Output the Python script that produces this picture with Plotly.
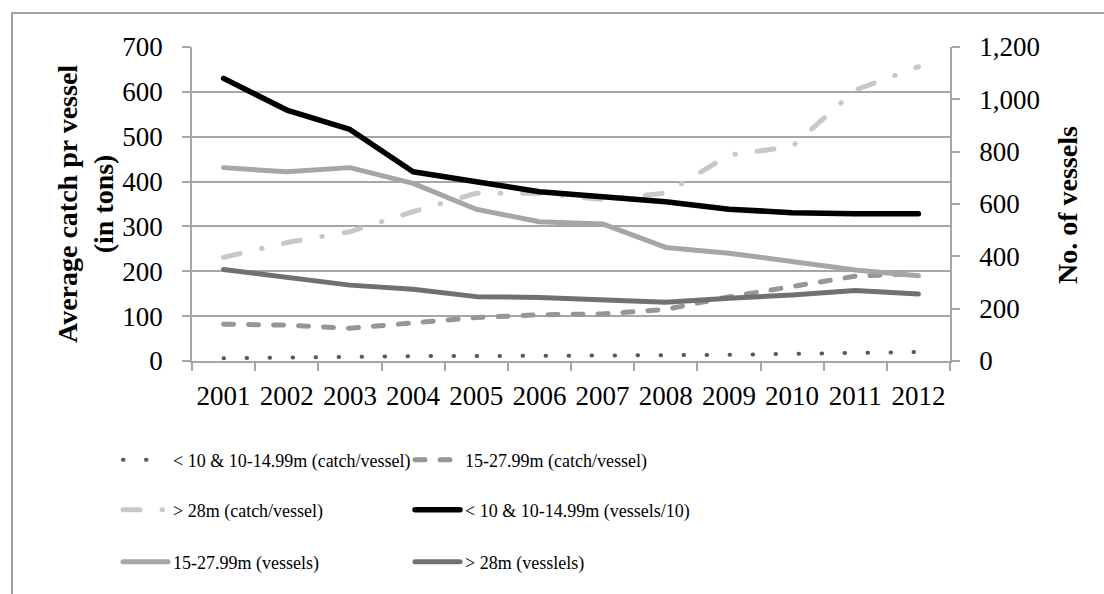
import plotly.graph_objects as go

years = [str(y) for y in range(2001, 2013)]

# Average catch per vessel (tons), left axis
catch_small = [6, 8, 9, 11, 11, 11, 13, 13, 14, 16, 19, 20]
catch_mid = [82, 80, 73, 85, 97, 103, 105, 115, 143, 166, 189, 195]
catch_large = [231, 264, 288, 333, 374, 374, 360, 374, 459, 478, 604, 656]

# Number of vessels, right axis
vessels_small_div10 = [1080, 959, 885, 723, 685, 647, 628, 609, 580, 567, 563, 563]
vessels_mid = [739, 723, 739, 679, 580, 532, 524, 434, 412, 380, 348, 326]
vessels_large = [350, 320, 290, 274, 246, 243, 233, 225, 240, 252, 269, 256]

names = [
    "&lt; 10 &amp; 10-14.99m (catch/vessel)",
    "15-27.99m (catch/vessel)",
    "&gt; 28m (catch/vessel)",
    "&lt; 10 &amp; 10-14.99m (vessels/10)",
    "15-27.99m (vessels)",
    "&gt; 28m (vesslels)",
]

SERIF = "Liberation Serif"
GRID = "#A6A6A6"

fig = go.Figure()

fig.add_trace(go.Scatter(x=years, y=catch_small, name=names[0], mode="lines",
                         line=dict(color="#595959", width=4, dash="0.5px,22.5px"),
                         legend="legend"))
fig.add_trace(go.Scatter(x=years, y=catch_mid, name=names[1], mode="lines",
                         line=dict(color="#969696", width=5, dash="10px,15px"),
                         legend="legend"))
fig.add_trace(go.Scatter(x=years, y=catch_large, name=names[2], mode="lines",
                         line=dict(color="#C8C8C8", width=5, dash="17px,22px,0.5px,22px"),
                         legend="legend2"))
fig.add_trace(go.Scatter(x=years, y=vessels_small_div10, name=names[3], mode="lines",
                         line=dict(color="#000000", width=5.5), yaxis="y2",
                         legend="legend2"))
fig.add_trace(go.Scatter(x=years, y=vessels_mid, name=names[4], mode="lines",
                         line=dict(color="#A6A6A6", width=5), yaxis="y2",
                         legend="legend3"))
fig.add_trace(go.Scatter(x=years, y=vessels_large, name=names[5], mode="lines",
                         line=dict(color="#707070", width=5), yaxis="y2",
                         legend="legend3"))

PL, PR, PT, PB = 192, 950, 47, 361
PW, PH = PR - PL, PB - PT


def px_x(px):
    return (px - PL) / PW


def px_y(py):
    return (PB - py) / PH


legend_common = dict(
    orientation="h", xanchor="left", yanchor="middle",
    x=px_x(118), entrywidth=232, entrywidthmode="pixels", itemwidth=45,
    font=dict(family=SERIF, size=18, color="#000000"),
    bgcolor="rgba(0,0,0,0)", traceorder="normal",
)

fig.update_layout(
    width=1104, height=594,
    margin=dict(l=PL, r=1104 - PR, t=PT, b=594 - PB),
    paper_bgcolor="#FFFFFF", plot_bgcolor="#FFFFFF",
    font=dict(family=SERIF, color="#000000"),
    xaxis=dict(
        type="category", range=[-0.5, 11.5], tickson="boundaries",
        ticks="outside", ticklen=8, tickwidth=1.5, tickcolor=GRID,
        showline=True, linecolor=GRID, linewidth=1.5, showgrid=False,
        tickfont=dict(family=SERIF, size=27, color="#000000"),
        tickangle=0, ticklabelstandoff=10,
    ),
    yaxis=dict(
        range=[0, 700], dtick=100, showgrid=True, gridcolor=GRID, gridwidth=1.5,
        zeroline=False, showline=True, linecolor=GRID, linewidth=1.5,
        ticks="outside", ticklen=8, tickwidth=1.5, tickcolor=GRID,
        tickfont=dict(family=SERIF, size=27, color="#000000"),
        ticklabelstandoff=14,
    ),
    yaxis2=dict(
        overlaying="y", side="right", range=[0, 1200], dtick=200, tickformat=",",
        showgrid=False, zeroline=False, showline=True, linecolor=GRID, linewidth=1.5,
        ticks="outside", ticklen=8, tickwidth=1.5, tickcolor=GRID,
        tickfont=dict(family=SERIF, size=27, color="#000000"),
        ticklabelstandoff=14,
    ),
    legend=dict(legend_common, y=px_y(460)),
    legend2=dict(legend_common, y=px_y(510)),
    legend3=dict(legend_common, y=px_y(562)),
    annotations=[
        dict(text="<b>Average catch pr vessel<br>(in tons)</b>", textangle=-90,
             xref="paper", yref="paper", x=px_x(85), y=px_y(204),
             xanchor="center", yanchor="middle", showarrow=False,
             font=dict(family=SERIF, size=28, color="#000000")),
        dict(text="<b>No. of vessels</b>", textangle=-90,
             xref="paper", yref="paper", x=px_x(1067), y=px_y(205),
             xanchor="center", yanchor="middle", showarrow=False,
             font=dict(family=SERIF, size=28, color="#000000")),
    ],
    shapes=[
        dict(type="rect", xref="paper", yref="paper", layer="below",
             x0=px_x(12), x1=px_x(1110), y0=px_y(600), y1=px_y(13),
             line=dict(color="#A0A0A0", width=2), fillcolor="rgba(0,0,0,0)"),
    ],
)

# Round line caps and joins so the dotted patterns render as dots
post = """
var gd = document.getElementById('{plot_id}');
function roundCaps() {
  gd.querySelectorAll('path.js-line').forEach(function (p) {
    p.style.strokeLinecap = 'round';
    p.style.strokeLinejoin = 'round';
  });
}
roundCaps();
gd.on('plotly_afterplot', roundCaps);
"""

fig.write_html("out.html", post_script=post)
